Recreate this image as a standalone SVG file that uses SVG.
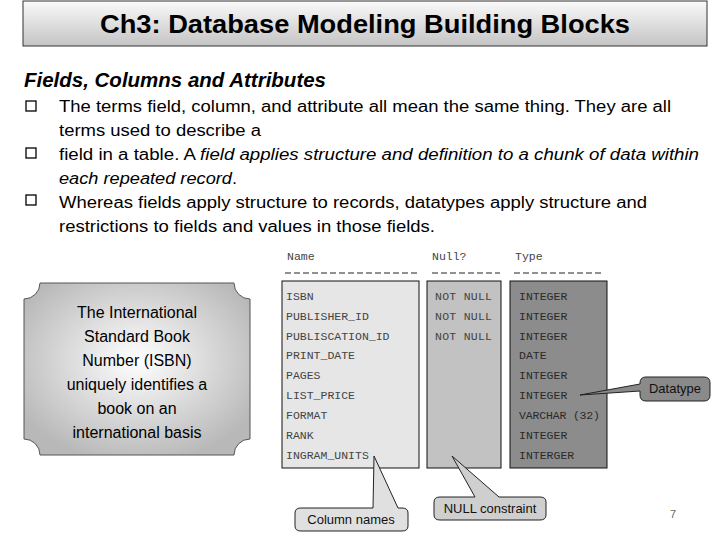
<svg xmlns="http://www.w3.org/2000/svg" width="720" height="540" viewBox="0 0 720 540">
<defs>
<linearGradient id="tg" x1="0" y1="0" x2="0" y2="1"><stop offset="0" stop-color="#fafafa"/><stop offset="1" stop-color="#c4c4c4"/></linearGradient>
<radialGradient id="pg" cx="0.5" cy="0.45" r="0.6"><stop offset="0" stop-color="#ffffff"/><stop offset="1" stop-color="#b8b8b8"/></radialGradient>
</defs>
<style>
.s{font-family:"Liberation Sans",Arial,sans-serif;fill:#000}
.b{font-family:"Liberation Sans",Arial,sans-serif;font-size:16px;fill:#000}
.m{font-family:"Liberation Mono","Courier New",monospace;font-size:11.5px;fill:#444}
.c{font-family:"Liberation Sans",Arial,sans-serif;font-size:13px;fill:#111}
.q{fill:none;stroke:#000;stroke-width:1.3}
</style>
<rect width="720" height="540" fill="#fff"/>
<g id="title"><rect x="23" y="1" width="684" height="45" fill="url(#tg)" stroke="#333"/>
<text class="s" x="365" y="33" font-size="25" font-weight="bold" text-anchor="middle" textLength="530" lengthAdjust="spacingAndGlyphs">Ch3: Database Modeling Building Blocks</text></g>
<g id="text">
<text class="s" x="24" y="87" font-size="20" font-weight="bold" font-style="italic" textLength="302" lengthAdjust="spacingAndGlyphs">Fields, Columns and Attributes</text>
<rect class="q" x="26" y="101" width="10" height="10"/>
<rect class="q" x="26" y="148" width="10" height="10"/>
<rect class="q" x="26" y="195" width="10" height="10"/>
<text class="b" x="59" y="112" textLength="612" lengthAdjust="spacingAndGlyphs">The terms field, column, and attribute all mean the same thing. They are all</text>
<text class="b" x="59" y="136" textLength="202" lengthAdjust="spacingAndGlyphs">terms used to describe a</text>
<text class="b" x="59" y="160" textLength="640" lengthAdjust="spacingAndGlyphs">field in a table. A <tspan font-style="italic">field applies structure and definition to a chunk of data within</tspan></text>
<text class="b" x="59" y="184" font-style="italic" textLength="178" lengthAdjust="spacingAndGlyphs">each repeated record<tspan font-style="normal">.</tspan></text>
<text class="b" x="59" y="208" textLength="588" lengthAdjust="spacingAndGlyphs">Whereas fields apply structure to records, datatypes apply structure and</text>
<text class="b" x="59" y="232" textLength="376" lengthAdjust="spacingAndGlyphs">restrictions to fields and values in those fields.</text>
</g>
<g id="plaque">
<path d="M40 283 H234 A16 16 0 0 0 250 299 V439 A16 16 0 0 0 234 455 H40 A16 16 0 0 0 24 439 V299 A16 16 0 0 0 40 283 Z" fill="url(#pg)" stroke="#555"/>
<g class="b" text-anchor="middle" font-size="17px">
<text x="137" y="318">The International</text><text x="137" y="342">Standard Book</text><text x="137" y="366">Number (ISBN)</text><text x="137" y="390">uniquely identifies a</text><text x="137" y="414">book on an</text><text x="137" y="438">international basis</text></g>
</g>
<g id="table">
<text class="m" x="287" y="260">Name</text><text class="m" x="432" y="260">Null?</text><text class="m" x="515" y="260">Type</text>
<g stroke="#222" stroke-dasharray="6,3"><line x1="285" y1="273" x2="417" y2="273"/><line x1="432" y1="273" x2="500" y2="273"/><line x1="514" y1="273" x2="604" y2="273"/></g>
<rect x="282" y="281" width="137" height="187" fill="#e6e6e6" stroke="#111"/>
<rect x="427" y="281" width="74" height="187" fill="#c2c2c2" stroke="#111"/>
<rect x="510" y="281" width="97" height="187" fill="#8c8c8c" stroke="#111"/>
<g class="m"><text x="286" y="300">ISBN</text><text x="286" y="320">PUBLISHER_ID</text><text x="286" y="340">PUBLISCATION_ID</text><text x="286" y="359">PRINT_DATE</text><text x="286" y="379">PAGES</text><text x="286" y="399">LIST_PRICE</text><text x="286" y="419">FORMAT</text><text x="286" y="439">RANK</text><text x="286" y="459">INGRAM_UNITS</text>
<text x="435" y="300" textLength="57">NOT NULL</text><text x="435" y="320" textLength="57">NOT NULL</text><text x="435" y="340" textLength="57">NOT NULL</text></g>
<g class="m" style="fill:#2a2a2a"><text x="519" y="300">INTEGER</text><text x="519" y="320">INTEGER</text><text x="519" y="340">INTEGER</text><text x="519" y="359">DATE</text><text x="519" y="379">INTEGER</text><text x="519" y="399">INTEGER</text><text x="519" y="419" textLength="81">VARCHAR (32)</text><text x="519" y="439">INTEGER</text><text x="519" y="459">INTERGER</text></g>
</g>
<g id="callouts" stroke="#222" stroke-width="1">
<path d="M301 508 H373 L374 456 L398 508 H402 Q408 508 408 513 V526 Q408 531 402 531 H301 Q295 531 295 526 V513 Q295 508 301 508 Z" fill="#e0e0e0"/>
<path d="M440 497 H475 L452 456 L499 497 H540 Q546 497 546 502 V515 Q546 520 540 520 H440 Q434 520 434 515 V502 Q434 497 440 497 Z" fill="#cfcfcf"/>
<path d="M646 377 H704 Q710 377 710 383 V395 Q710 401 704 401 H646 Q640 401 640 395 V391 L580 395 L640 384 V383 Q640 377 646 377 Z" fill="#8a8a8a"/>
</g>
<g stroke="none">
<text class="c" x="351" y="524" text-anchor="middle">Column names</text>
<text class="c" x="490" y="513" text-anchor="middle">NULL constraint</text>
<text class="c" x="675" y="393" text-anchor="middle">Datatype</text>
<text class="s" x="673" y="518" font-size="11" text-anchor="middle" style="fill:#666">7</text>
</g>
</svg>
